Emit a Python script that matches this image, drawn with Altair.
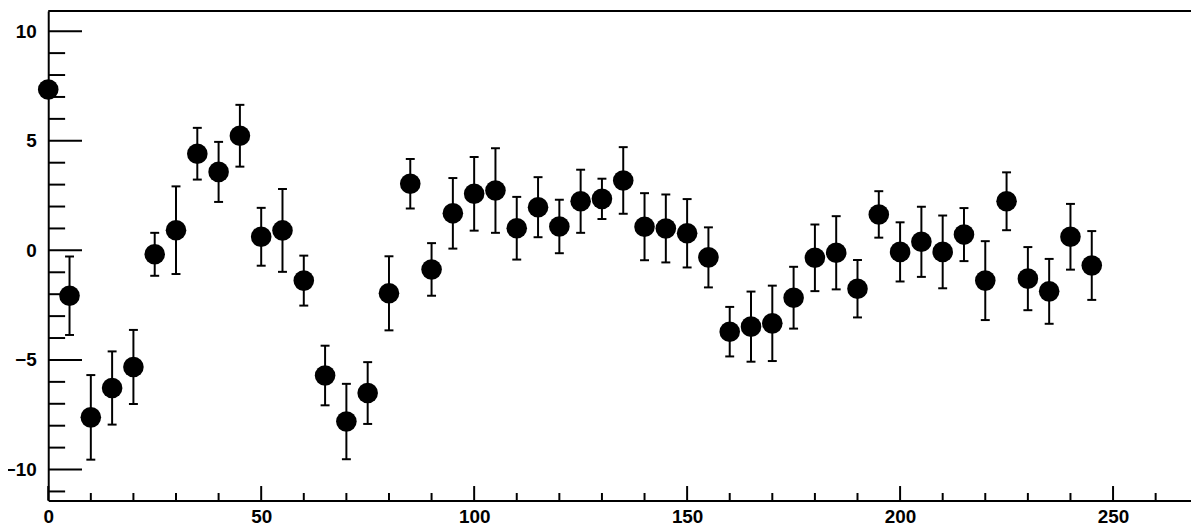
import altair as alt
import pandas as pd

# data
x_vals = [0, 5, 10, 15, 20, 25, 30, 35, 40, 45,
          50, 55, 60, 65, 70, 75, 80, 85, 90, 95,
          100, 105, 110, 115, 120, 125, 130, 135, 140, 145,
          150, 155, 160, 165, 170, 175, 180, 185, 190, 195,
          200, 205, 210, 215, 220, 225, 230, 235, 240, 245]
y_vals = [7.34, -2.07, -7.62, -6.28, -5.32, -0.18, 0.92, 4.41, 3.58, 5.23,
          0.62, 0.91, -1.38, -5.71, -7.81, -6.51, -1.96, 3.04, -0.87, 1.69,
          2.58, 2.73, 1.01, 1.97, 1.09, 2.24, 2.35, 3.19, 1.08, 1.00,
          0.78, -0.32, -3.71, -3.48, -3.33, -2.16, -0.34, -0.11, -1.75, 1.64,
          -0.07, 0.39, -0.07, 0.72, -1.38, 2.24, -1.29, -1.87, 0.62, -0.69]
y_err = [0.0, 1.79, 1.93, 1.67, 1.69, 0.98, 2.00, 1.18, 1.37, 1.41,
         1.32, 1.89, 1.14, 1.36, 1.72, 1.41, 1.69, 1.13, 1.20, 1.61,
         1.68, 1.93, 1.43, 1.37, 1.22, 1.44, 0.92, 1.52, 1.53, 1.55,
         1.56, 1.37, 1.13, 1.60, 1.72, 1.41, 1.52, 1.67, 1.31, 1.06,
         1.35, 1.60, 1.66, 1.21, 1.80, 1.32, 1.44, 1.48, 1.50, 1.57]

x_major = [0, 50, 100, 150, 200, 250]
x_minor = [10, 20, 30, 40, 60, 70, 80, 90, 110, 120, 130, 140, 160, 170, 180,
           190, 210, 220, 230, 240, 260]
y_major = [-10, -5, 0, 5, 10]
y_minor = [-11, -9, -8, -7, -6, -4, -3, -2, -1, 1, 2, 3, 4, 6, 7, 8, 9]

x_domain = [0, 268.3]
y_domain = [-11.41, 10.92]

W = 1150.5
H = 492.7
FONT = "Liberation Sans"

df = pd.DataFrame({"x": x_vals, "y": y_vals, "err": y_err})
df["lo"] = df["y"] - df["err"]
df["hi"] = df["y"] + df["err"]

xs = alt.Scale(domain=x_domain, nice=False, zero=False)
ys = alt.Scale(domain=y_domain, nice=False, zero=False)

x_axis = alt.Axis(values=x_major, title=None, labelPadding=7, labelFlush=False,
                  labelOverlap=False)
y_axis = alt.Axis(values=y_major, title=None, labelPadding=12, labelOverlap=False)

points = alt.Chart(df).mark_circle(size=430, color="black", opacity=1).encode(
    x=alt.X("x:Q", scale=xs, axis=x_axis),
    y=alt.Y("y:Q", scale=ys, axis=y_axis),
)

bars = alt.Chart(df).mark_rule(color="black", strokeWidth=2).encode(
    x=alt.X("x:Q", scale=xs),
    y=alt.Y("lo:Q", scale=ys),
    y2="hi:Q",
)

cap_lo = alt.Chart(df).mark_tick(orient="horizontal", size=9, thickness=2,
                                 color="black", opacity=1).encode(
    x=alt.X("x:Q", scale=xs),
    y=alt.Y("lo:Q", scale=ys),
)
cap_hi = alt.Chart(df).mark_tick(orient="horizontal", size=9, thickness=2,
                                 color="black", opacity=1).encode(
    x=alt.X("x:Q", scale=xs),
    y=alt.Y("hi:Q", scale=ys),
)

ymaj = alt.Chart(pd.DataFrame({"v": y_major})).mark_rule(color="black", strokeWidth=2).encode(
    y=alt.Y("v:Q", scale=ys), x=alt.value(0), x2=alt.value(34))
ymin = alt.Chart(pd.DataFrame({"v": y_minor})).mark_rule(color="black", strokeWidth=2).encode(
    y=alt.Y("v:Q", scale=ys), x=alt.value(0), x2=alt.value(17))
xmaj = alt.Chart(pd.DataFrame({"v": x_major})).mark_rule(color="black", strokeWidth=2).encode(
    x=alt.X("v:Q", scale=xs), y=alt.value(H - 14.5), y2=alt.value(H))
xmin = alt.Chart(pd.DataFrame({"v": x_minor})).mark_rule(color="black", strokeWidth=2).encode(
    x=alt.X("v:Q", scale=xs), y=alt.value(H - 7.5), y2=alt.value(H))

top_line = alt.Chart(pd.DataFrame({"v": [0]})).mark_rule(color="black", strokeWidth=2).encode(
    x=alt.value(0), x2=alt.value(W), y=alt.value(0))

chart = alt.layer(top_line, ymaj, ymin, xmaj, xmin, bars, cap_lo, cap_hi, points).properties(
    width=W, height=H,
    autosize=alt.AutoSizeParams(type="none"),
    padding={"left": 40.5, "top": 1.3, "right": 0, "bottom": 27},
    background="white",
).configure_view(stroke=None).configure_axis(
    grid=False, ticks=False, domainColor="black", domainWidth=2,
    labelFont=FONT, labelFontWeight="bold", labelFontSize=19, labelColor="black",
)

chart.save("out.html", embed_options={"renderer": "svg", "actions": False})
